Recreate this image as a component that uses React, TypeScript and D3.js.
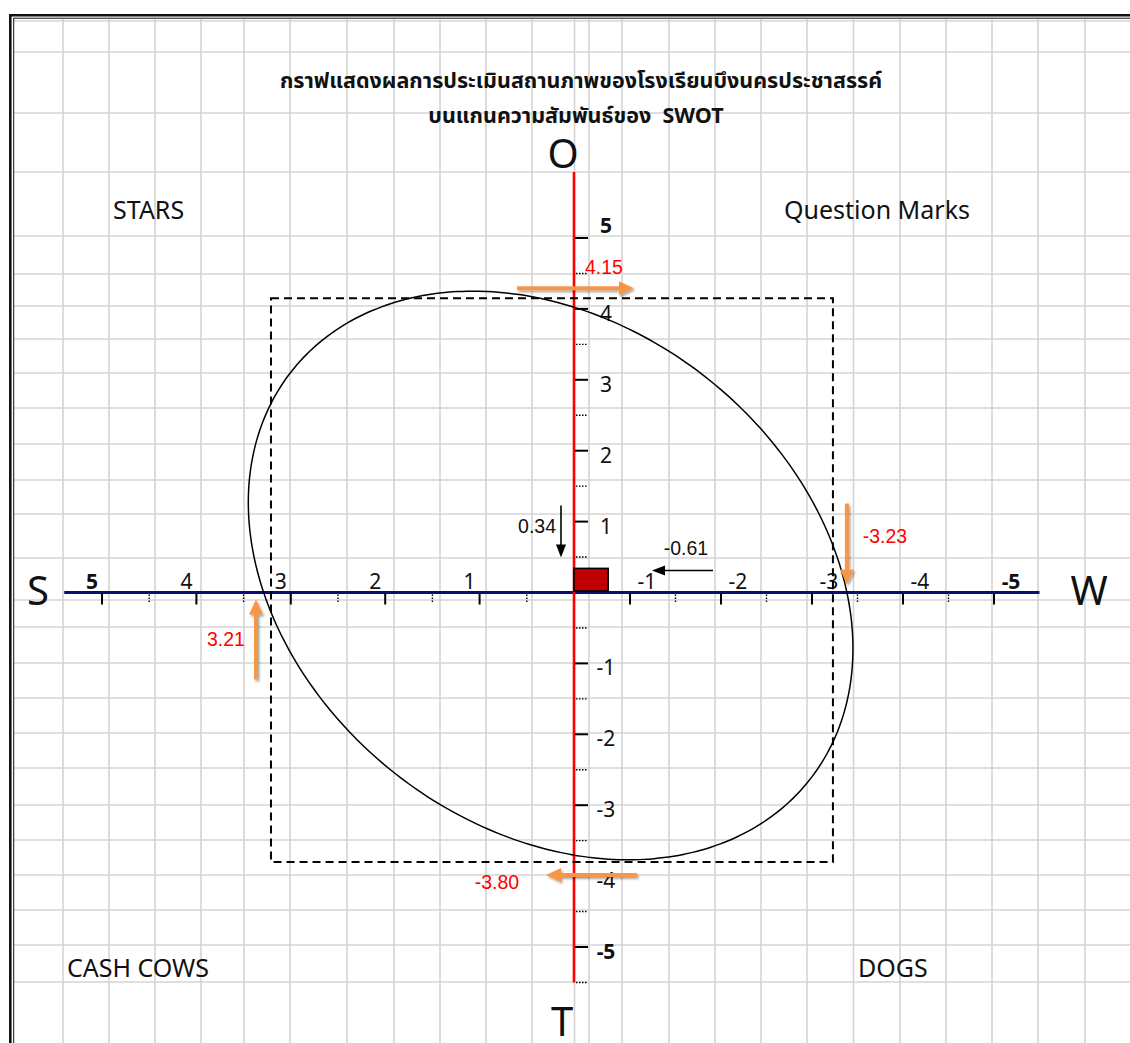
import React from 'react';
import * as d3 from 'd3';

// ---------- data ----------
const TITLE_LINES = [
  'กราฟแสดงผลการประเมินสถานภาพของโรงเรียนบึงนครประชาสรรค์',
  'บนแกนความสัมพันธ์ของ\u00A0\u00A0SWOT',
];
const AXIS_NAMES = ['S', 'W', 'O', 'T'];
const QUADRANT_NAMES = ['STARS', 'Question Marks', 'CASH COWS', 'DOGS'];
const X_TICKS = [5, 4, 3, 2, 1, -1, -2, -3, -4, -5];
const X_MINOR = [4.5, 3.5, 2.5, 1.5, 0.5, -1.5, -2.5, -3.5, -4.5];
const Y_TICKS = [5, 4, 3, 2, 1, -1, -2, -3, -4, -5];
const Y_MINOR = [4.5, 3.5, 2.5, 1.5, 0.5, -0.5, -1.5, -2.5, -3.5, -4.5, -5.5];
const SWOT_KEYS = ['S', 'W', 'O', 'T'];
const SWOT_SCORES = [3.21, -3.23, 4.15, -3.8];
const RESULT_X = -0.61; // internal (S+W)
const RESULT_Y = 0.34; // external (O+T)
// ellipse extents: [left, right, top, bottom] in axis units, tilt phase
const ELLIPSE_EXTENT = [3.45, -3.45, 4.25, -3.77];
const ELLIPSE_TILT = 0.26;

// ---------- layout (spreadsheet background) ----------
const GRID_COLS = [63, 109, 155, 201, 244, 290, 347, 394, 440, 486, 532, 574.5, 589, 622, 669, 715, 761, 807, 853.5, 900, 946, 992, 1038, 1085];
const GRID_ROWS = [21, 52, 113, 172, 236, 274, 306, 339, 373, 408, 444, 480, 514, 558, 600, 627, 663, 698, 733, 768, 805, 840, 875, 910, 945, 982];

const W = 1130;
const H = 1043;
const ORANGE = '#F79646';
const THAI_FONT = "Tahoma, 'Leelawadee UI', 'Noto Sans Thai', 'Noto Sans Thai UI', Loma, Garuda, Norasi, Kinnari, 'Noto Sans', sans-serif";
const UI_FONT = "'Noto Sans', 'Open Sans', 'DejaVu Sans', sans-serif";
const ARIAL = "'Liberation Sans', Arial, sans-serif";

function Arrow({ x1, y1, x2, y2, color, width, headLen, headW, filter }: any) {
  const dx = x2 - x1;
  const dy = y2 - y1;
  const len = Math.hypot(dx, dy);
  const ux = dx / len;
  const uy = dy / len;
  const bx = x2 - ux * headLen;
  const by = y2 - uy * headLen;
  const px = -uy;
  const py = ux;
  const pts = [
    [x2, y2],
    [bx + px * headW / 2, by + py * headW / 2],
    [bx - px * headW / 2, by - py * headW / 2],
  ];
  return (
    <g filter={filter}>
      <line x1={x1} y1={y1} x2={bx + ux} y2={by + uy} stroke={color} strokeWidth={width} />
      <polygon points={pts.map((p) => p.join(',')).join(' ')} fill={color} />
    </g>
  );
}

export default function App() {
  const x = d3.scaleLinear().domain([5, 0, -1, -5]).range([102, 574, 630, 994]);
  const y = d3.scaleLinear().domain([5, -5]).range([238, 947]);

  const score = (k: string) => SWOT_SCORES[SWOT_KEYS.indexOf(k)];
  const sX = x(score('S'));
  const wX = x(score('W'));
  const oY = y(score('O'));
  const tY = y(score('T'));
  const x0 = x(0);
  const y0 = y(0);

  // ellipse
  const eL = x(ELLIPSE_EXTENT[0]);
  const eR = x(ELLIPSE_EXTENT[1]);
  const eT = y(ELLIPSE_EXTENT[2]);
  const eB = y(ELLIPSE_EXTENT[3]);
  const ecx = (eL + eR) / 2;
  const ecy = (eT + eB) / 2;
  const ew = (eR - eL) / 2;
  const eh = (eB - eT) / 2;
  const ellipsePts: [number, number][] = d3.range(0, 360, 2).map((deg) => {
    const t = (deg * Math.PI) / 180;
    return [ecx + ew * Math.cos(t), ecy + eh * Math.sin(t + ELLIPSE_TILT)];
  });
  const ellipsePath = d3.line().curve(d3.curveCardinalClosed)(ellipsePts) || '';

  const axisLeft = x(5.4);
  const axisRight = x(-5.5);
  const axisTop = y(5.93);
  const axisBottom = y(-5.5);

  return (
    <svg width={W} height={H} style={{ position: 'absolute', left: 0, top: 0, background: '#fff' }}>
      <defs>
        <filter id="shadow" x="-30%" y="-30%" width="160%" height="160%">
          <feDropShadow dx="1.5" dy="2" stdDeviation="1.2" floodColor="#000" floodOpacity="0.35" />
        </filter>
      </defs>
      <rect x={0} y={0} width={W} height={H} fill="#fff" />

      {/* spreadsheet grid */}
      <g stroke="#d4d4d4" strokeWidth={1.6}>
        {GRID_COLS.map((c) => (
          <line key={'c' + c} x1={c} x2={c} y1={19} y2={H} />
        ))}
        {GRID_ROWS.map((r) => (
          <line key={'r' + r} x1={14} x2={W} y1={r} y2={r} />
        ))}
      </g>

      {/* frame */}
      <line x1={10.3} y1={14} x2={10.3} y2={H} stroke="#111" strokeWidth={2.6} />
      <line x1={9} y1={15.3} x2={W} y2={15.3} stroke="#111" strokeWidth={2.6} />
      <line x1={13.7} y1={18.2} x2={13.7} y2={H} stroke="#111" strokeWidth={1} />
      <line x1={13.2} y1={18.2} x2={W} y2={18.2} stroke="#111" strokeWidth={1} />

      {/* title */}
      <g fontFamily={THAI_FONT} fontWeight="bold" fill="#111" textAnchor="middle">
        <text x={581} y={88} fontSize={21.5}>{TITLE_LINES[0]}</text>
        <text x={576} y={123} fontSize={21.5}>{TITLE_LINES[1]}</text>
      </g>

      {/* axes */}
      <line x1={axisLeft} x2={axisRight} y1={y0} y2={y0} stroke="#0b0b78" strokeWidth={3} />
      <line x1={x0} x2={x0} y1={axisTop} y2={axisBottom} stroke="#ff0000" strokeWidth={2.6} />

      {/* x ticks */}
      <g stroke="#000">
        {X_TICKS.map((v) => (
          <line key={'xt' + v} x1={x(v)} x2={x(v)} y1={y0 + 1} y2={y0 + 12} strokeWidth={2} />
        ))}
        {X_MINOR.map((v) => (
          <line key={'xm' + v} x1={x(v)} x2={x(v)} y1={y0 + 2} y2={y0 + 11} strokeWidth={1.4} strokeDasharray="1.5,1.5" />
        ))}
      </g>
      <g fontFamily={UI_FONT} fontSize={21} fill="#111" textAnchor="middle">
        {X_TICKS.map((v) => (
          <text key={'xl' + v} x={x(v) + (v > 0 ? -10 : 17)} y={y0 - 4} fontWeight={Math.abs(v) === 5 ? 'bold' : 'normal'}>
            {String(v)}
          </text>
        ))}
      </g>

      {/* y ticks */}
      <g stroke="#000">
        {Y_TICKS.map((v) => (
          <line key={'yt' + v} x1={x0 + 1} x2={x0 + 14} y1={y(v)} y2={y(v)} strokeWidth={2} />
        ))}
        {Y_MINOR.map((v) => (
          <line key={'ym' + v} x1={x0 + 2} x2={x0 + 13} y1={y(v)} y2={y(v)} strokeWidth={1.4} strokeDasharray="1.5,1.5" />
        ))}
      </g>
      <g fontFamily={UI_FONT} fontSize={21} fill="#111" textAnchor="middle">
        {Y_TICKS.map((v) => (
          <text key={'yl' + v} x={x0 + 32} y={y(v) + (v === 5 ? -5 : 12)} fontWeight={Math.abs(v) === 5 ? 'bold' : 'normal'}>
            {String(v)}
          </text>
        ))}
      </g>

      {/* dashed SWOT box */}
      <rect x={sX} y={oY} width={wX - sX} height={tY - oY} fill="none" stroke="#000" strokeWidth={2} strokeDasharray="8,5" />

      {/* ellipse */}
      <path d={ellipsePath} fill="none" stroke="#000" strokeWidth={1.5} />

      {/* result bar */}
      <rect x={x0} y={y(RESULT_Y)} width={x(RESULT_X) - x0} height={y0 - y(RESULT_Y) - 1.5} fill="#c00000" stroke="#000" strokeWidth={1.6} />

      {/* black arrows */}
      <Arrow x1={x0 - 13} y1={y0 - 87} x2={x0 - 13} y2={y0 - 35} color="#000" width={1.6} headLen={13} headW={10} />
      <Arrow x1={x(-1) + 83} y1={y0 - 22} x2={x(-1) + 22} y2={y0 - 22} color="#000" width={1.6} headLen={13} headW={10} />
      <g fontFamily={ARIAL} fontSize={19.5} fill="#111">
        <text x={x0 - 18} y={y0 - 60} textAnchor="end">{String(RESULT_Y.toFixed(2))}</text>
        <text x={x(-1) + 56} y={y0 - 38} textAnchor="middle">{String(RESULT_X.toFixed(2))}</text>
      </g>

      {/* orange arrows */}
      <Arrow x1={x0 - 57} y1={oY - 10} x2={x0 + 60} y2={oY - 10} color={ORANGE} width={4} headLen={15} headW={14} filter="url(#shadow)" />
      <Arrow x1={x0 + 63} y1={tY + 13} x2={x0 - 28} y2={tY + 13} color={ORANGE} width={4} headLen={15} headW={14} filter="url(#shadow)" />
      <Arrow x1={sX - 15} y1={y0 + 87} x2={sX - 15} y2={y0 + 7} color={ORANGE} width={4} headLen={15} headW={14} filter="url(#shadow)" />
      <Arrow x1={wX + 14} y1={y0 - 89} x2={wX + 14} y2={y0 - 8} color={ORANGE} width={4} headLen={15} headW={14} filter="url(#shadow)" />
      <g fontFamily={ARIAL} fontSize={19.5} fill="#ff0000" textAnchor="middle">
        <text x={x0 + 30} y={oY - 24}>{score('O').toFixed(2)}</text>
        <text x={x0 - 77} y={tY + 27}>{score('T').toFixed(2)}</text>
        <text x={sX - 45} y={y0 + 53}>{score('S').toFixed(2)}</text>
        <text x={wX + 52} y={y0 - 50}>{score('W').toFixed(2)}</text>
      </g>

      {/* axis names */}
      <g fontFamily={UI_FONT} fontSize={40} fill="#111" textAnchor="middle">
        <text x={38} y={605}>{AXIS_NAMES[0]}</text>
        <text x={1089} y={605}>{AXIS_NAMES[1]}</text>
        <text x={563} y={168}>{AXIS_NAMES[2]}</text>
        <text x={562} y={1036}>{AXIS_NAMES[3]}</text>
      </g>

      {/* quadrant names */}
      <g fontFamily={UI_FONT} fontSize={25} fill="#111">
        <text x={113} y={219}>{QUADRANT_NAMES[0]}</text>
        <text x={784} y={219}>{QUADRANT_NAMES[1]}</text>
        <text x={67} y={977}>{QUADRANT_NAMES[2]}</text>
        <text x={858} y={977}>{QUADRANT_NAMES[3]}</text>
      </g>
    </svg>
  );
}
